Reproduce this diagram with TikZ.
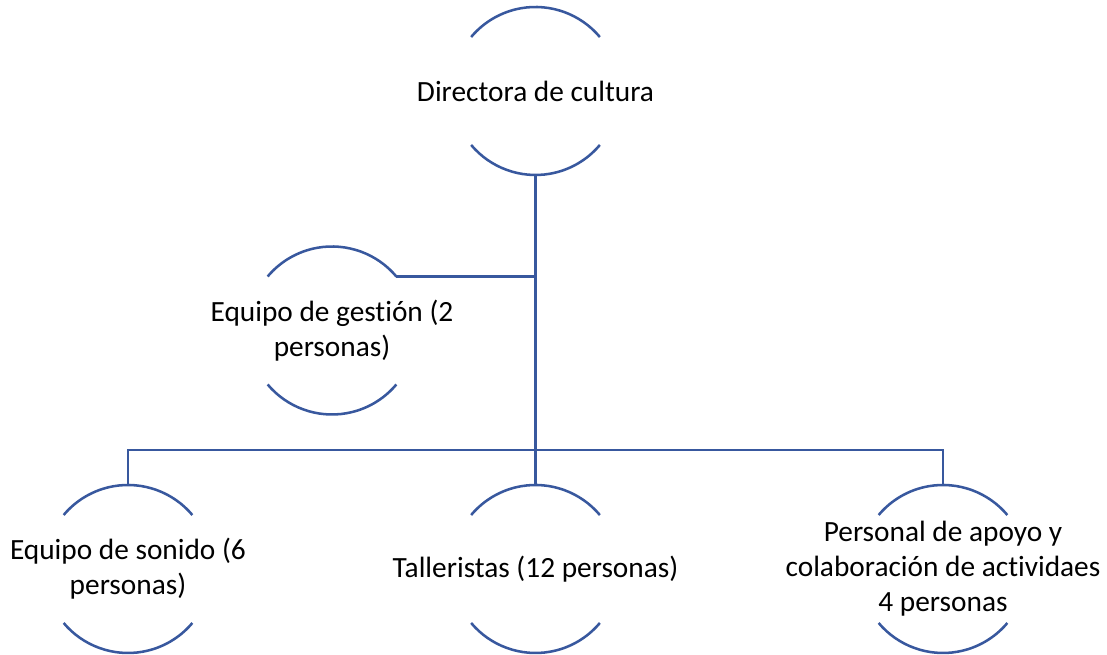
\documentclass[tikz,border=0pt]{standalone}
\usepackage{fontspec}
\setmainfont[Ligatures=NoCommon]{Carlito}
\definecolor{orgblue}{RGB}{56,88,158}

\begin{document}
\begin{tikzpicture}[x=0.75pt,y=0.75pt,
  unit/.style={align=center,inner sep=0pt,font=\fontsize{22}{26.3}\selectfont},
  arcline/.style={orgblue,line width=1.9pt},
  link/.style={orgblue,line width=1.9pt}]
%\draw [help lines,step=50] (0,0) grid (1107,655);
\useasboundingbox (0,0) rectangle (1107,655);

 \node [unit] (dir) at (535.5,564) {Directora de cultura};
 \node [unit] (ges) at (332,324.5) {Equipo de gesti\'on (2\\personas)};
 \node [unit] (son) at (128,86)    {Equipo de sonido (6\\personas)};
 \node [unit] (tal) at (535.5,86)  {Talleristas (12 personas)};
 \node [unit] (per) at (943,86)    {Personal de apoyo y\\colaboraci\'on de actividaes\\4 personas};

% half circles round every text
\foreach \n in {dir,ges,son,tal,per}{
 \draw [arcline] ([shift={(40:84)}]\n.center) arc [start angle=40,end angle=140,radius=84];
 \draw [arcline] ([shift={(220:84)}]\n.center) arc [start angle=220,end angle=320,radius=84];
}

 \coordinate (dirbot) at ([shift={(0,-84)}]dir.center);
 \coordinate (gesend) at ([shift={(40:84)}]ges.center);
 \coordinate (sontop) at ([shift={(0,84)}]son.center);
 \coordinate (taltop) at ([shift={(0,84)}]tal.center);
 \coordinate (pertop) at ([shift={(0,84)}]per.center);
 \coordinate (bus) at (535.5,205);

\draw [link] (dirbot)--(taltop);
\draw [link] (gesend)--(gesend -| dirbot);
\draw [link] (sontop)--(sontop |- bus)--(pertop |- bus)--(pertop);
\end{tikzpicture}
\end{document}
